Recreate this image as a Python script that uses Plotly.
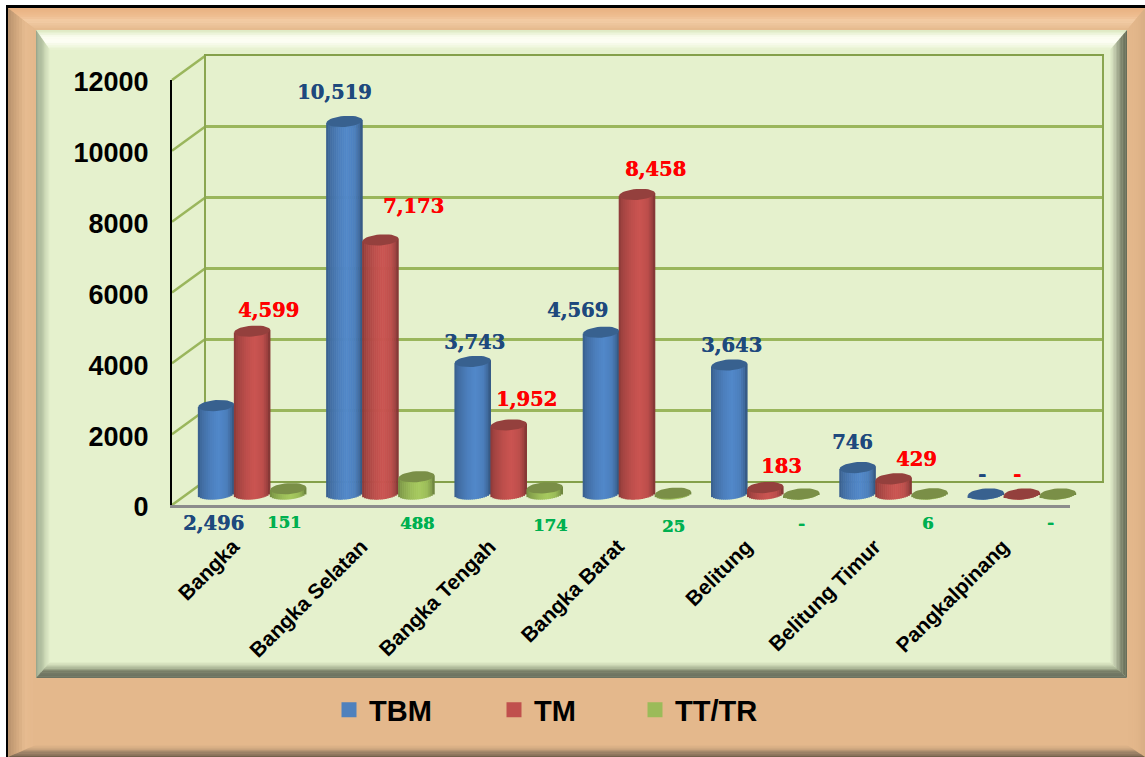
import math
import plotly.graph_objects as go

# ---------- data ----------
CATEGORIES = ["Bangka", "Bangka Selatan", "Bangka Tengah", "Bangka Barat",
              "Belitung", "Belitung Timur", "Pangkalpinang"]
TBM = [2496, 10519, 3743, 4569, 3643, 746, 0]
TM = [4599, 7173, 1952, 8458, 183, 429, 0]
TT_TR = [151, 488, 174, 25, 0, 6, 0]
Y_TICKS = [0, 2000, 4000, 6000, 8000, 10000, 12000]

# ---------- label offsets from the top of each bar (px; right, down) ----------
TBM_LABEL_OFFSET = [(-3, 118), (-10, -28.5), (1.5, -19), (-24, -22), (2, -19), (-5, -25), (-3.5, -20)]
TM_LABEL_OFFSET = [(16, -21), (33, -33), (17.5, -25), (18, -25), (16, -21.5), (23, -19), (-4.5, -20)]
TT_LABEL_OFFSET = [(-4, 34), (1, 47), (5.5, 38), (0, 33), (0, 29), (-2, 30), (-7.5, 28)]

# ---------- layout constants (px) ----------
W, H = 1145, 757
PL, PR, PT, PB = 172, 1103, 55, 505           # overall plot rectangle
FRONT_R = 1070                                # right end of the floor's front edge
DEPTH_X, DEPTH_Y = 33, 24                     # back wall offset
VPX = 425.0                                   # px for Y max
YMAX = 12000.0
BAR_DX, BAR_BASE_UP = 16, 11                  # bars sit this far into the depth
PITCH = (FRONT_R - PL) / 7.0
BAR_W = 36.0
CAP_A, CAP_B, CAP_TILT = 18.0, 5.5, math.radians(-4.5)
N_STRIPS = 18
LABEL_SHIFT = -3                              # category labels shift


def X(p):
    return (p - PL) / (PR - PL)


def Y(p):
    return (PB - p) / (PB - PT)


def mix(c1, c2, f):
    a = [int(c1[i:i + 2], 16) for i in (1, 3, 5)]
    b = [int(c2[i:i + 2], 16) for i in (1, 3, 5)]
    return "#%02x%02x%02x" % tuple(round(a[i] + (b[i] - a[i]) * f) for i in range(3))


def ramp(stops, f):
    for (f0, c0), (f1, c1) in zip(stops, stops[1:]):
        if f <= f1:
            return mix(c0, c1, (f - f0) / (f1 - f0) if f1 > f0 else 0)
    return stops[-1][1]


def bevel(rect, thick, stops, steps=10):
    """Mitred bevel frame; stops run from the outer edge to the inner edge."""
    L, T, R, B = rect
    tl, tt, tr, tb = thick
    out = []
    for s in range(steps):
        f0, f1 = s / steps, (s + 1) / steps + 0.02
        def corner(f):
            return L + f * tl, T + f * tt, R - f * tr, B - f * tb
        l0, t0, r0, b0 = corner(f0)
        l1, t1, r1, b1 = corner(min(f1, 1))
        polys = {
            "top": [(l0, t0), (r0, t0), (r1, t1), (l1, t1)],
            "left": [(l0, t0), (l1, t1), (l1, b1), (l0, b0)],
            "right": [(r0, t0), (r1, t1), (r1, b1), (r0, b0)],
            "bottom": [(l0, b0), (r0, b0), (r1, b1), (l1, b1)],
        }
        for side, pts in polys.items():
            col = ramp(stops[side], (s + 0.5) / steps)
            path = "M" + "L".join(f"{X(a):.6f},{Y(b):.6f}" for a, b in pts) + "Z"
            out.append(dict(type="path", path=path, xref="paper", yref="paper", layer="below",
                            fillcolor=col, line=dict(width=0)))
    return out


PANEL = "#e5f1cd"
PEACH = "#e4b88c"
shapes = []


def rect(l, t, r, b, col):
    return dict(type="rect", xref="paper", yref="paper", layer="below", x0=X(l), x1=X(r),
                y0=Y(b), y1=Y(t), fillcolor=col, line=dict(width=0))


# outer frame
shapes.append(rect(6, 5, W, H, "#000000"))
shapes.append(rect(8, 8, W, H, PEACH))
shapes += bevel((8, 8, W, H), (28, 22, 18, 12), {
    "top": [(0, "#e9b080"), (0.35, "#eebd90"), (0.6, "#f3cda6"), (1, PEACH)],
    "left": [(0, "#b8926c"), (0.35, "#d4aa80"), (0.6, "#e6bb90"), (1, PEACH)],
    "right": [(0, "#d8ae84"), (0.5, "#e2b68a"), (1, PEACH)],
    "bottom": [(0, "#6e5c48"), (0.3, "#8f7860"), (0.7, "#cfa880"), (1, PEACH)],
}, steps=10)
# inner panel
shapes.append(rect(36, 30, 1127, 678, PANEL))
shapes += bevel((36, 30, 1127, 678), (14, 20, 17, 16), {
    "top": [(0, "#dbe8bf"), (0.35, "#fbfdf0"), (0.6, "#fdfef4"), (1, PANEL)],
    "left": [(0, "#98a48a"), (0.5, "#bcc9a8"), (1, PANEL)],
    "right": [(0, "#646a56"), (0.3, "#7b8169"), (0.7, "#bcc5a8"), (1, PANEL)],
    "bottom": [(0, "#6b7160"), (0.4, "#757b65"), (0.65, "#b4bf9e"), (1, PANEL)],
}, steps=12)

# side wall diagonals, computed from the tick values
GREEN_LINE = "#9ab65c"
for t in Y_TICKS:
    yf = PB - t / YMAX * VPX
    shapes.append(dict(type="line", xref="paper", yref="paper", layer="below",
                       x0=X(PL), x1=X(PL + DEPTH_X), y0=Y(yf), y1=Y(yf - DEPTH_Y),
                       line=dict(color=GREEN_LINE, width=2.5)))

fig = go.Figure()

# axis helpers: wall (x/y), front (x2/y2), bars (x3/y3)
BAR_BASE_PX = PB - BAR_BASE_UP
BAR_AX_BOTTOM, BAR_AX_TOP = float(PB), float(PT)
per_px = YMAX / VPX
bar_yrange = [-(BAR_AX_BOTTOM - BAR_BASE_PX) * per_px, (BAR_BASE_PX - BAR_AX_TOP) * per_px]

# legend entries sit on the wall subplot
LEGEND_NAMES = ["TBM", "TM", "TT/TR"]
LEGEND_COLORS = ["#4f81bd", "#c0504d", "#9bbb59"]
LEGEND_IDS = ["legend", "legend2", "legend3"]
for name, col, lid in zip(LEGEND_NAMES, LEGEND_COLORS, LEGEND_IDS):
    fig.add_trace(go.Scatter(x=[None], y=[None], mode="markers", name=name, legend=lid,
                             marker=dict(symbol="square", size=15, color=col, line=dict(width=0)),
                             xaxis="x", yaxis="y", hoverinfo="skip"))

# anchor trace of the front axes
fig.add_trace(go.Scatter(x=list(range(7)), y=[0] * 7, mode="markers", marker=dict(opacity=0, size=1),
                         xaxis="x2", yaxis="y2", showlegend=False, hoverinfo="skip"))

SERIES = [
    (TBM, -1, "#4f84c4", "#38618f", "#1f497d", TBM_LABEL_OFFSET, 19.5),
    (TM, 0, "#c5524f", "#94403d", "#ff0000", TM_LABEL_OFFSET, 19.5),
    (TT_TR, 1, "#a2c45c", "#7a8f47", "#00b050", TT_LABEL_OFFSET, 16.5),
]


def shade(u):
    stops = [(-1, 0.7), (-0.8, 0.82), (-0.3, 0.96), (0.15, 1.03), (0.6, 0.96), (0.85, 0.8), (1, 0.62)]
    for (a, fa), (b, fb) in zip(stops, stops[1:]):
        if u <= b:
            return fa + (fb - fa) * (u - a) / (b - a)
    return stops[-1][1]


def scale(col, k):
    v = [int(col[i:i + 2], 16) for i in (1, 3, 5)]
    return "#%02x%02x%02x" % tuple(min(255, round(c * k)) for c in v)


annotations = []
for values, slot, base_col, cap_col, txt_col, offsets, fs in SERIES:
    centers = [i + slot * BAR_W / PITCH for i in range(len(values))]
    # cylinder body as vertical gradient strips
    for j in range(N_STRIPS):
        u = -1 + (2 * j + 1) / N_STRIPS
        rim = CAP_B * math.sqrt(max(0, 1 - u * u))
        tilt_px = u * CAP_A * math.tan(CAP_TILT)
        bases = [-(rim + tilt_px) * per_px for _ in values]
        tops = [v - tilt_px * per_px for v in values]
        fig.add_trace(go.Bar(
            x=[c + u * BAR_W / 2 / PITCH for c in centers],
            y=[t - b for t, b in zip(tops, bases)],
            base=bases,
            width=(BAR_W / N_STRIPS + 0.6) / PITCH,
            marker=dict(color=scale(base_col, shade(u)), line=dict(width=0)),
            xaxis="x3", yaxis="y3", showlegend=False, hoverinfo="skip"))
    # top ellipses
    xs, ys = [], []
    for c, v in zip(centers, values):
        for k in range(37):
            t = 2 * math.pi * k / 36
            ex = CAP_A * math.cos(t)
            ey = CAP_B * math.sin(t)
            px = ex * math.cos(CAP_TILT) - ey * math.sin(CAP_TILT)
            py = ex * math.sin(CAP_TILT) + ey * math.cos(CAP_TILT)
            xs.append(c + px / PITCH)
            ys.append(v - py * per_px)
        xs.append(None)
        ys.append(None)
    fig.add_trace(go.Scatter(x=xs, y=ys, mode="lines", fill="toself", fillcolor=cap_col,
                             line=dict(width=0, color=cap_col), xaxis="x3", yaxis="y3",
                             showlegend=False, hoverinfo="skip"))
    # value labels
    for c, v, (dx, dy) in zip(centers, values, offsets):
        annotations.append(dict(
            x=c, y=v, xref="x3", yref="y3", text=f"{v:,}" if v else "-", showarrow=False,
            xanchor="center", yanchor="middle", xshift=dx, yshift=-dy,
            font=dict(family="DejaVu Serif", size=fs, color=txt_col, weight="bold",
                      shadow=f"0.4px 0.3px 0.5px {txt_col}")))

AXIS_OFF = dict(showgrid=False, zeroline=False, showticklabels=False, showline=False, ticks="", automargin=False)
LEGEND_FONT = dict(family="Liberation Sans", size=29, color="#000000", weight="bold")


def legend_at(px):
    return dict(x=X(px), y=Y(710), xanchor="left", yanchor="middle", bgcolor="rgba(0,0,0,0)",
                borderwidth=0, font=LEGEND_FONT, itemwidth=30, itemsizing="trace")


fig.update_layout(
    width=W, height=H, template="none", showlegend=True,
    margin=dict(l=PL, r=W - PR, t=PT, b=H - PB, pad=0, autoexpand=False),
    paper_bgcolor="#ffffff", plot_bgcolor="rgba(0,0,0,0)",
    barmode="overlay", shapes=shapes, annotations=annotations,
    legend=legend_at(329), legend2=legend_at(494), legend3=legend_at(635),
    # back wall with its grid
    xaxis=dict(domain=[X(PL + DEPTH_X + 1), X(PR - 1)], range=[0, 1], anchor="y", showgrid=False, zeroline=False,
               showticklabels=False, ticks="", showline=True, mirror=True, linecolor="#84a04a",
               linewidth=2, automargin=False),
    yaxis=dict(domain=[Y(PB - DEPTH_Y), Y(PT + 1)], range=[0, YMAX], anchor="x", tickvals=Y_TICKS,
               showticklabels=False, ticks="", showgrid=True, gridcolor=GREEN_LINE, gridwidth=2.5,
               zeroline=False, showline=True, mirror=True, linecolor="#8aa650", linewidth=2,
               automargin=False),
    # front axes: floor edge, left axis, tick labels
    xaxis2=dict(domain=[0, X(FRONT_R)], range=[-0.5, 6.5], anchor="y2",
                tickvals=[i + LABEL_SHIFT / PITCH for i in range(7)], ticktext=CATEGORIES,
                tickangle=-45, ticks="", ticklabelstandoff=18, showgrid=False, zeroline=False,
                showline=True, linecolor="#8c8c8c", linewidth=3, automargin=False,
                tickfont=dict(family="Liberation Sans", size=21, color="#000000", weight="bold")),
    yaxis2=dict(domain=[0, VPX / (PB - PT)], range=[0, YMAX], anchor="x2", tickvals=Y_TICKS,
                tickformat="d", ticks="", ticklabelstandoff=16, ticklabelshift=2, showgrid=False,
                zeroline=False, showline=True, linecolor="#000000", linewidth=2, automargin=False,
                tickfont=dict(family="Liberation Sans", size=27, color="#000000", weight="bold")),
    # bars
    xaxis3=dict(domain=[X(PL + BAR_DX), X(FRONT_R + BAR_DX)], range=[-0.5, 6.5], anchor="y3", **AXIS_OFF),
    yaxis3=dict(domain=[Y(BAR_AX_BOTTOM), Y(BAR_AX_TOP)], range=bar_yrange, anchor="x3", **AXIS_OFF),
)

fig.write_html("out.html", config={"displayModeBar": False},
               post_script="document.body.style.margin='0';document.body.style.overflow='hidden';")
